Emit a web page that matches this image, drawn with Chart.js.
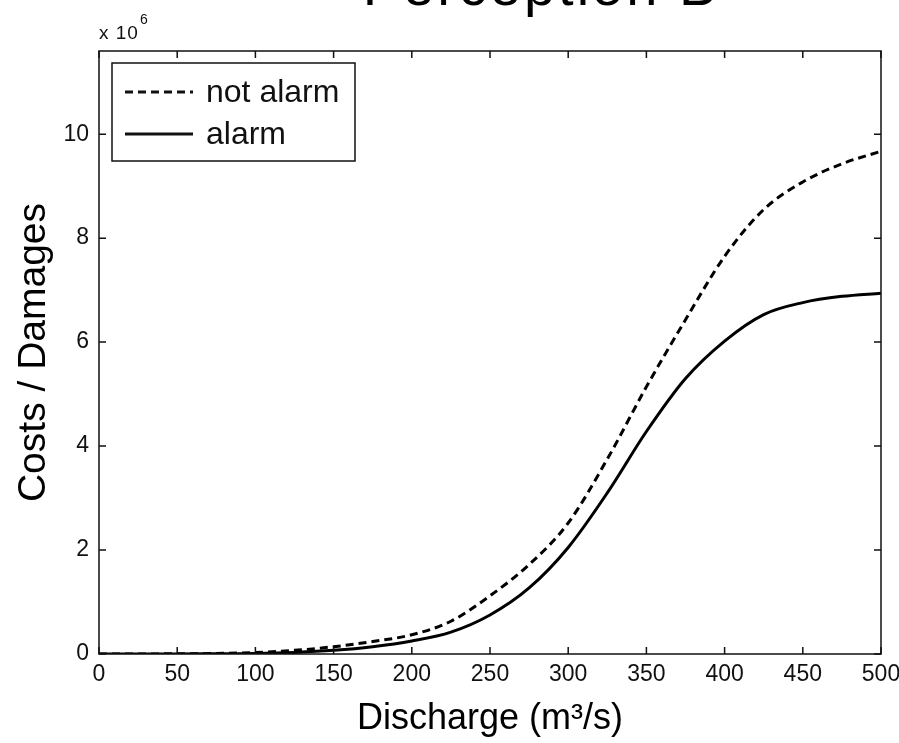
<!DOCTYPE html>
<html>
<head>
<meta charset="utf-8">
<title>Perception B</title>
<script src="https://cdn.jsdelivr.net/npm/chart.js@4.4.1/dist/chart.umd.min.js"></script>
<style>
  html, body { margin: 0; padding: 0; background: #fff; overflow: hidden; }
  #chart-wrap { width: 899px; height: 743px; }
</style>
</head>
<body>
<div id="chart-wrap"><canvas id="damage-chart" width="899" height="743"></canvas></div>
<script>
// Discharge (m3/s)
const discharge = [0, 25, 50, 75, 100, 125, 150, 175, 200, 225, 250, 275, 300, 325, 350, 375, 400, 425, 450, 475, 500];
// Costs / damages, in units of 10^6
const notAlarm = [0, 0, 0.005, 0.01, 0.03, 0.07, 0.14, 0.24, 0.37, 0.63, 1.12, 1.72, 2.52, 3.75, 5.14, 6.43, 7.65, 8.55, 9.08, 9.43, 9.67];
const alarm = [0, 0, 0, 0.005, 0.01, 0.03, 0.07, 0.14, 0.25, 0.42, 0.75, 1.27, 2.05, 3.1, 4.28, 5.3, 6.02, 6.53, 6.76, 6.88, 6.94];

const seriesLabels = ["not alarm", "alarm"];
const xTicks = [0, 50, 100, 150, 200, 250, 300, 350, 400, 450, 500];
const yTicks = [0, 2, 4, 6, 8, 10];
const yMax = 11.6;

const titleText = "Perception B";
const xTitle = "Discharge (m\u00b3/s)";
const yTitle = "Costs / Damages";

const mainFont = "'Liberation Sans', Arial, Helvetica, sans-serif";
const ink = "#111";

// frame, inside ticks, boxed legend, cut-off title and exponent label
const matlabLook = {
    id: "matlabLook",
    afterDraw(chart) {
        const { ctx, chartArea: a, scales: { x, y } } = chart;
        ctx.save();

        // box round the axes
        ctx.strokeStyle = ink;
        ctx.lineWidth = 1.5;
        ctx.setLineDash([]);
        ctx.strokeRect(a.left, a.top, a.right - a.left, a.bottom - a.top);

        // tick marks pointing inwards, on all four sides
        ctx.beginPath();
        x.ticks.forEach((t) => {
            const px = x.getPixelForValue(t.value);
            ctx.moveTo(px, a.bottom);
            ctx.lineTo(px, a.bottom - 7);
            ctx.moveTo(px, a.top);
            ctx.lineTo(px, a.top + 7);
        });
        y.ticks.forEach((t) => {
            const py = y.getPixelForValue(t.value);
            ctx.moveTo(a.left, py);
            ctx.lineTo(a.left + 7, py);
            ctx.moveTo(a.right, py);
            ctx.lineTo(a.right - 7, py);
        });
        ctx.stroke();

        // legend
        const lx = a.left + 13;
        const ly = a.top + 12;
        ctx.fillStyle = "#fff";
        ctx.fillRect(lx, ly, 243, 98);
        ctx.lineWidth = 1.5;
        ctx.strokeRect(lx, ly, 243, 98);
        ctx.font = "32px " + mainFont;
        ctx.textBaseline = "alphabetic";
        ctx.textAlign = "left";
        chart.data.datasets.forEach((ds, i) => {
            const rowY = ly + 29 + i * 42;
            ctx.beginPath();
            ctx.lineWidth = ds.borderWidth;
            ctx.setLineDash(ds.borderDash || []);
            ctx.moveTo(lx + 13, rowY);
            ctx.lineTo(lx + 81, rowY);
            ctx.stroke();
            ctx.setLineDash([]);
            ctx.fillStyle = ink;
            ctx.fillText(ds.label, lx + 94, rowY + 10);
        });

        // title, mostly above the top edge of the picture
        ctx.font = "56px " + mainFont;
        ctx.letterSpacing = "3px";
        ctx.textAlign = "center";
        ctx.fillStyle = "#000";
        ctx.fillText(titleText, (a.left + a.right) / 2 + 51, 5);

        // exponent label
        ctx.letterSpacing = "1px";
        ctx.textAlign = "left";
        ctx.fillStyle = ink;
        ctx.font = "19px " + mainFont;
        ctx.fillText("x 10", a.left, 39);
        const w = ctx.measureText("x 10").width;
        ctx.font = "14px " + mainFont;
        ctx.fillText("6", a.left + w + 1, 24);
        ctx.restore();
    }
};

const ctx = document.getElementById("damage-chart").getContext("2d");

new Chart(ctx, {
    type: "line",
    data: {
        datasets: [
            {
                label: seriesLabels[0],
                data: discharge.map((q, i) => ({ x: q, y: notAlarm[i] })),
                borderColor: "#000",
                borderWidth: 3,
                borderDash: [8, 5],
                pointRadius: 0,
                fill: false,
                cubicInterpolationMode: "monotone"
            },
            {
                label: seriesLabels[1],
                data: discharge.map((q, i) => ({ x: q, y: alarm[i] })),
                borderColor: "#000",
                borderWidth: 3,
                pointRadius: 0,
                fill: false,
                cubicInterpolationMode: "monotone"
            }
        ]
    },
    options: {
        responsive: false,
        animation: false,
        devicePixelRatio: 1,
        layout: {
            padding: { top: 51, right: 18, left: 0, bottom: 0 }
        },
        plugins: {
            legend: { display: false },
            tooltip: { enabled: false },
            title: { display: false }
        },
        scales: {
            x: {
                type: "linear",
                min: 0,
                max: 500,
                afterBuildTicks: (scale) => {
                    scale.ticks = xTicks.map((v) => ({ value: v }));
                },
                afterFit: (scale) => {
                    scale.height = 89;
                    scale.paddingLeft = 0;
                    scale.paddingRight = 0;
                },
                grid: { display: false, drawTicks: false },
                border: { display: false },
                ticks: {
                    padding: 7,
                    maxRotation: 0,
                    autoSkip: false,
                    color: ink,
                    font: { family: mainFont, size: 23 }
                },
                title: {
                    display: true,
                    text: xTitle,
                    color: "#000",
                    padding: { top: 0, bottom: 2 },
                    font: { family: mainFont, size: 36 }
                }
            },
            y: {
                type: "linear",
                min: 0,
                max: yMax,
                afterBuildTicks: (scale) => {
                    scale.ticks = yTicks.map((v) => ({ value: v }));
                },
                afterFit: (scale) => {
                    scale.width = 99;
                    scale.paddingTop = 0;
                    scale.paddingBottom = 0;
                },
                grid: { display: false, drawTicks: false },
                border: { display: false },
                ticks: {
                    padding: 10,
                    autoSkip: false,
                    color: ink,
                    font: { family: mainFont, size: 23 }
                },
                title: {
                    display: true,
                    text: yTitle,
                    color: "#000",
                    padding: { top: 11, bottom: 0 },
                    font: { family: mainFont, size: 39 }
                }
            }
        }
    },
    plugins: [matlabLook]
});
</script>
</body>
</html>
